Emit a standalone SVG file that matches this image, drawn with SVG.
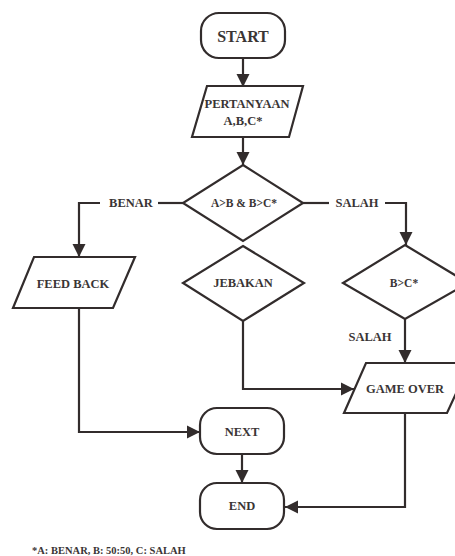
<svg xmlns="http://www.w3.org/2000/svg" width="455" height="556" viewBox="0 0 455 556">
<defs>
<style>
.s{fill:#fff;stroke:#322c2c;stroke-width:2.2;stroke-linejoin:miter}
.c{fill:none;stroke:#322c2c;stroke-width:2.2}
text{font-family:"Liberation Serif","DejaVu Serif",serif;font-weight:bold;fill:#3a3535;text-anchor:middle;dominant-baseline:central}
.t{font-size:12.5px}
</style>
<marker id="ah" markerUnits="userSpaceOnUse" markerWidth="14" markerHeight="14" viewBox="0 0 14 14" refX="13" refY="7" orient="auto">
<path d="M0,0.5 L13,7 L0,13.5 Z" fill="#322c2c"/>
</marker>
</defs>
<rect width="455" height="556" fill="#fff"/>
<g id="connectors">
<path class="c" d="M243,58 V87" marker-end="url(#ah)"/>
<path class="c" d="M243,137 V165" marker-end="url(#ah)"/>
<path class="c" d="M183,203 H158"/>
<path class="c" d="M100,203 H79 V257" marker-end="url(#ah)"/>
<text class="t" x="131" y="203">BENAR</text>
<path class="c" d="M303,203 H329"/>
<path class="c" d="M385,203 H406 V245" marker-end="url(#ah)"/>
<text class="t" x="357" y="203">SALAH</text>
<path class="c" d="M243,321 V389 H354" marker-end="url(#ah)"/>
<path class="c" d="M405,319 V363" marker-end="url(#ah)"/>
<text class="t" x="370" y="337">SALAH</text>
<path class="c" d="M405,413 V507 H285" marker-end="url(#ah)"/>
<path class="c" d="M79,308 V432 H200" marker-end="url(#ah)"/>
<path class="c" d="M242,454 V483" marker-end="url(#ah)"/>
</g>
<g id="start">
<rect class="s" x="201" y="13" width="84" height="45" rx="18"/>
<text x="243" y="36" font-size="16">START</text>
</g>
<g id="pertanyaan">
<polygon class="s" points="207,86 303,86 289,137 192,137"/>
<text class="t" x="247" y="104">PERTANYAAN</text>
<text class="t" x="243" y="121">A,B,C*</text>
</g>
<g id="decision1">
<polygon class="s" points="243,165 303,203 243,241 183,203"/>
<text x="244" y="203" font-size="11.5">A&gt;B &amp; B&gt;C*</text>
</g>
<g id="feedback">
<polygon class="s" points="34,257 135,257 113,308 13,308"/>
<text class="t" x="73" y="284">FEED BACK</text>
</g>
<g id="jebakan">
<polygon class="s" points="243,246 304,283 243,321 183,283"/>
<text class="t" x="243" y="283">JEBAKAN</text>
</g>
<g id="decision2">
<polygon class="s" points="405,245 468,283 405,319 343,283"/>
<text x="404" y="283" font-size="11.5">B&gt;C*</text>
</g>
<g id="gameover">
<polygon class="s" points="366,363 470,363 447,413 344,413"/>
<text class="t" x="405" y="389">GAME OVER</text>
</g>
<g id="next">
<rect class="s" x="200" y="408" width="84" height="46" rx="17"/>
<text class="t" x="242" y="432">NEXT</text>
</g>
<g id="end">
<rect class="s" x="200" y="483" width="84" height="46" rx="17"/>
<text class="t" x="242" y="506">END</text>
</g>
<text x="32" y="550" font-size="10.5" style="text-anchor:start">*A: BENAR, B: 50:50, C: SALAH</text>
</svg>
